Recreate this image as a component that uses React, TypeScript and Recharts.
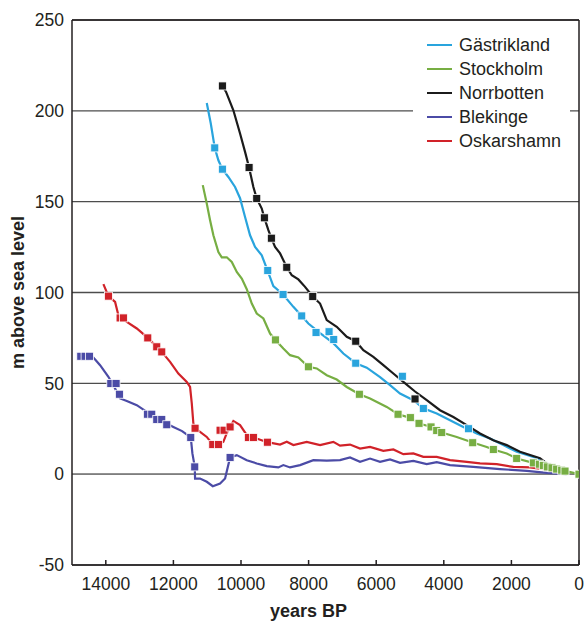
import { ComposedChart, Line, Scatter, XAxis, YAxis, CartesianGrid, Legend, ReferenceLine } from 'recharts'

// [years BP, m above sea level]
const gastriklandCurve: [number, number][] = [
  [11013, 204.3], [10894, 193.0], [10776, 179.6], [10669, 172.8], [10551, 167.9], [10374, 163.6],
  [10176, 158.1], [10028, 151.9], [9880, 141.6], [9732, 131.5], [9584, 125.1], [9386, 120.5],
  [9214, 112.0], [9043, 103.5], [8756, 98.9], [8451, 92.1], [8203, 87.1], [8007, 82.9],
  [7661, 77.6], [7268, 72.1], [6972, 66.4], [6605, 61.1], [6280, 58.6], [5886, 53.4],
  [5591, 49.0], [5295, 44.4], [4901, 40.7], [4606, 36.2], [4209, 33.4], [3816, 29.7],
  [3422, 26.0], [3026, 22.4], [2633, 19.6], [2239, 16.0], [1843, 12.3], [1204, 8.6], [799, 4.4],
]
const gastriklandPoints: [number, number][] = [
  [10776, 179.6], [10551, 167.9], [9208, 112.1], [8756, 98.9], [8203, 87.1], [7780, 78.0],
  [7395, 78.4], [7256, 74.1], [6605, 61.1], [5227, 53.9], [4606, 36.2], [3269, 25.0],
]

const stockholmCurve: [number, number][] = [
  [11131, 159.1], [11013, 149.0], [10915, 139.8], [10817, 131.5], [10669, 122.3], [10569, 119.3],
  [10421, 119.4], [10273, 116.8], [10125, 111.3], [9977, 107.7], [9829, 101.8], [9681, 93.9],
  [9534, 88.4], [9338, 85.7], [9140, 77.4], [8983, 73.9], [8747, 69.2], [8549, 65.5],
  [8303, 64.2], [8007, 59.1], [7759, 58.2], [7463, 54.5], [7167, 52.1], [6872, 48.0],
  [6499, 44.0], [6182, 41.7], [5688, 37.0], [5354, 33.0], [4990, 31.0], [4733, 27.9],
  [4357, 26.0], [4061, 22.9], [3618, 20.5], [3144, 17.4], [2730, 15.0], [2535, 13.6],
  [2139, 11.4], [1843, 8.6], [1352, 6.2], [947, 4.1], [512, 2.2], [0, 0],
]
const stockholmPoints: [number, number][] = [
  [8983, 73.9], [8007, 59.1], [6499, 44.0], [5354, 33.0], [4990, 31.1], [4733, 28.0],
  [4378, 26.0], [4209, 24.0], [4061, 22.9], [3144, 17.3], [2535, 13.6], [1843, 8.7],
  [1352, 6.2], [1174, 5.5], [1056, 4.8], [938, 4.0], [799, 3.5], [660, 2.8], [512, 2.2],
  [414, 1.7], [0, 0],
]

const norrbottenCurve: [number, number][] = [
  [10551, 213.7], [10442, 210.4], [10226, 200.3], [10028, 187.5], [9880, 177.4], [9761, 168.8],
  [9634, 158.1], [9534, 151.7], [9386, 146.2], [9309, 141.1], [9190, 134.3], [9102, 129.9],
  [8992, 125.1], [8844, 121.5], [8646, 113.9], [8498, 109.5], [8303, 107.2], [8105, 103.1],
  [7877, 97.8], [7661, 93.9], [7463, 84.8], [7167, 81.1], [6871, 75.6], [6605, 73.2],
  [6380, 68.2], [6085, 64.6], [5789, 60.0], [5493, 55.4], [5197, 50.8], [4851, 45.5],
  [4505, 40.7], [4112, 35.2], [3718, 31.5], [3322, 27.0], [2928, 22.4], [2535, 18.7],
  [2139, 16.0], [1745, 12.3], [1154, 8.8], [955, 5.9], [621, 2.2],
]
const norrbottenPoints: [number, number][] = [
  [10551, 213.7], [9761, 168.8], [9534, 151.7], [9309, 141.1], [9102, 129.9], [8646, 113.9],
  [7877, 97.8], [6605, 73.2], [4851, 41.4],
]

const blekingeCurve: [number, number][] = [
  [14740, 64.9], [14367, 64.2], [14169, 60.0], [13923, 53.6], [13725, 47.2], [13577, 41.7],
  [13379, 40.3], [13083, 38.0], [12787, 34.3], [12394, 29.7], [12001, 26.0], [11743, 23.7],
  [11486, 20.2], [11438, 11.4], [11368, 4.0], [11359, -2.4], [11211, -2.4], [11013, -4.2],
  [10835, -6.6], [10619, -5.1], [10471, -2.4], [10323, 9.2], [10125, 10.5], [9829, 7.7],
  [9534, 5.9], [9238, 4.4], [8895, 3.7], [8747, 5.0], [8549, 3.7], [8253, 5.0],
  [7859, 7.7], [7463, 7.4], [7070, 7.7], [6774, 9.2], [6478, 6.8], [6182, 8.6],
  [5886, 6.8], [5591, 8.1], [5295, 6.2], [4901, 7.3], [4505, 5.5], [4209, 6.6],
  [3816, 5.0], [3127, 4.0], [2337, 2.8], [1547, 1.8], [955, 0.7], [364, 0],
]
const blekingePoints: [number, number][] = [
  [14740, 64.9], [14613, 64.9], [14485, 64.9], [13852, 49.9], [13696, 49.9], [13598, 44.0],
  [12770, 33.0], [12640, 33.0], [12492, 30.1], [12344, 30.1], [12196, 27.2], [11486, 20.2],
  [11368, 4.0], [10323, 9.2],
]

const oskarshamnCurve: [number, number][] = [
  [14071, 104.6], [13923, 98.0], [13725, 94.8], [13628, 87.5], [13379, 83.8], [13083, 80.2],
  [12758, 75.0], [12492, 70.1], [12344, 67.3], [12098, 61.8], [11853, 55.4], [11604, 50.8],
  [11507, 48.0], [11456, 38.9], [11409, 27.9], [11359, 25.3], [11211, 23.3], [11013, 20.5],
  [10835, 16.3], [10669, 16.3], [10522, 17.8], [10421, 22.6], [10323, 26.0], [10226, 29.3],
  [10028, 27.0], [9782, 20.2], [9634, 20.2], [9220, 17.6], [8844, 16.3], [8646, 17.8],
  [8451, 16.0], [8055, 17.8], [7661, 16.0], [7268, 17.8], [7070, 15.7], [6774, 16.3],
  [6478, 14.1], [6182, 15.0], [5789, 12.8], [5493, 13.6], [5197, 11.0], [4901, 11.4],
  [4606, 9.5], [4209, 9.5], [3816, 7.7], [3322, 6.8], [2928, 5.9], [2434, 5.5],
  [1943, 4.0], [1449, 3.7], [1154, 3.1], [660, 1.3], [364, 0.4],
]
const oskarshamnPoints: [number, number][] = [
  [13923, 98.0], [13577, 86.0], [13480, 86.0], [12758, 75.0], [12492, 70.1], [12344, 67.3],
  [11359, 25.3], [10835, 16.3], [10669, 16.3], [10619, 24.2], [10501, 24.2], [10323, 26.0],
  [9782, 20.2], [9634, 20.2], [9220, 17.6],
]

const xTicks = [0, 2000, 4000, 6000, 8000, 10000, 12000, 14000]
const yTicks = [-50, 0, 50, 100, 150, 200, 250]

const series = [
  { name: 'Gästrikland', color: '#29a4dd', curve: gastriklandCurve, points: gastriklandPoints },
  { name: 'Stockholm', color: '#77ae43', curve: stockholmCurve, points: stockholmPoints },
  { name: 'Norrbotten', color: '#1b1b1b', curve: norrbottenCurve, points: norrbottenPoints },
  { name: 'Blekinge', color: '#4b4ba6', curve: blekingeCurve, points: blekingePoints },
  { name: 'Oskarshamn', color: '#d12229', curve: oskarshamnCurve, points: oskarshamnPoints },
]

const toXY = (rows: [number, number][]) => rows.map(([x, y]) => ({ x, y }))

const font = '"Liberation Sans", Arial, Helvetica, sans-serif'
const tickStyle = { fontSize: 17.5, fill: '#231f20', fontFamily: font }

function square(color: string) {
  return (props: any) => (
    <rect
      x={props.cx - 4}
      y={props.cy - 4}
      width={8}
      height={8}
      fill={color}
      stroke="#ffffff"
      strokeWidth={0.8}
    />
  )
}

function LegendBox() {
  return (
    <div style={{ background: '#fff', width: 157, padding: '5px 0 8px 0', fontFamily: font }}>
      {series.map((s) => (
        <div key={s.name} style={{ display: 'flex', alignItems: 'center', height: 24 }}>
          <span style={{ display: 'inline-block', width: 25, height: 2.5, background: s.color, marginLeft: 14, marginRight: 7 }} />
          <span style={{ fontSize: 18, color: '#231f20' }}>{s.name}</span>
        </div>
      ))}
    </div>
  )
}

export default function App() {
  return (
    <div style={{ position: 'absolute', left: 0, top: 0 }}>
      <ComposedChart width={586} height={622} margin={{ top: 20, right: 7, bottom: 0, left: 0 }}>
        <CartesianGrid vertical={false} stroke="#4d4d4d" strokeWidth={1.3} />
        <XAxis
          type="number"
          dataKey="x"
          domain={[0, 15000]}
          reversed
          ticks={xTicks}
          allowDataOverflow
          height={57}
          tickSize={-5}
          tickMargin={18}
          tick={tickStyle}
          stroke="#231f20"
          strokeWidth={1.5}
          label={{ value: 'years BP', position: 'center', dx: -17, dy: 17, style: { fontSize: 18, fontWeight: 'bold', fill: '#231f20', fontFamily: font } }}
        />
        <YAxis
          type="number"
          dataKey="y"
          domain={[-50, 250]}
          ticks={yTicks}
          allowDataOverflow
          width={72}
          tickSize={0}
          tickMargin={8}
          tick={tickStyle}
          stroke="#231f20"
          strokeWidth={1.5}
          label={{ value: 'm above sea level', angle: -90, position: 'center', dx: -18, style: { fontSize: 18, fontWeight: 'bold', fill: '#231f20', fontFamily: font } }}
        />
        <ReferenceLine y={0} stroke="#808080" strokeWidth={1.3} />
        <ReferenceLine y={250} stroke="#231f20" strokeWidth={1.5} />
        <ReferenceLine x={0} stroke="#231f20" strokeWidth={1.5} />
        <Legend
          layout="vertical"
          align="center"
          verticalAlign="middle"
          content={() => <LegendBox />}
          wrapperStyle={{ top: 28, left: 413, width: 157 }}
        />
        {series.map((s) => (
          <Line
            key={s.name}
            data={toXY(s.curve)}
            dataKey="y"
            name={s.name}
            type="linear"
            stroke={s.color}
            strokeWidth={2.2}
            dot={false}
            activeDot={false}
            legendType="line"
            isAnimationActive={false}
          />
        ))}
        {series.map((s) => (
          <Scatter
            key={s.name + '-pts'}
            data={toXY(s.points)}
            dataKey="y"
            fill={s.color}
            shape={square(s.color)}
            legendType="none"
            isAnimationActive={false}
          />
        ))}
      </ComposedChart>
    </div>
  )
}
